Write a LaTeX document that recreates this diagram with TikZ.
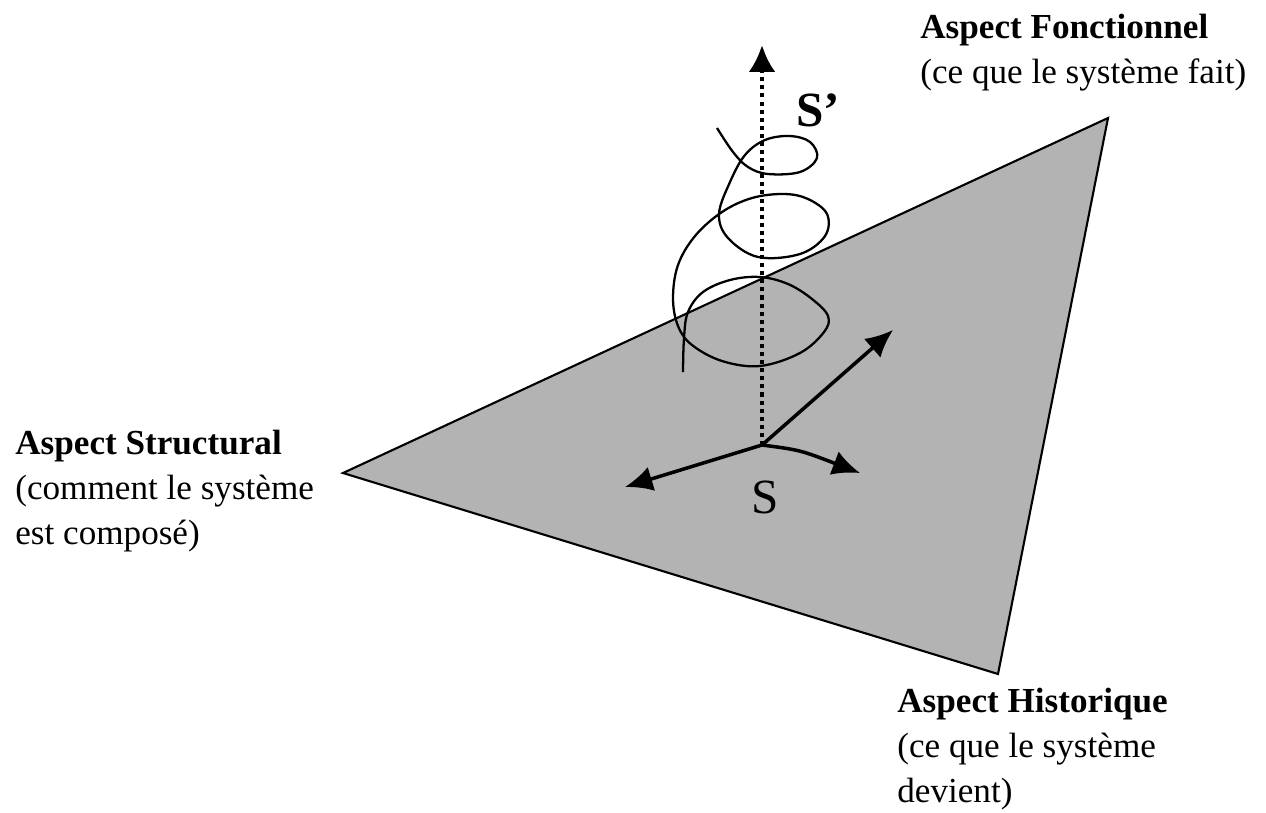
\documentclass[tikz,border=0pt]{standalone}
\usepackage{fontspec}
\setmainfont{Liberation Serif}
\usetikzlibrary{arrows.meta}
\definecolor{planegray}{RGB}{179,179,179}
\tikzset{
  aspect/.style={anchor=north west, align=left, inner sep=0pt, font=\fontsize{20}{25.5}\selectfont},
  vec/.style={line width=2pt, -{Latex[length=0.55cm,width=0.5cm]}},
}
\begin{document}
\begin{tikzpicture}[x=0.02cm,y=-0.02cm]
\useasboundingbox (0,0) rectangle (1266,812);
% the plane of the three aspects
\coordinate (struct) at (343,473);
\coordinate (fonct) at (1108,118);
\coordinate (hist) at (998,674);
\draw[line width=1.2pt, fill=planegray] (struct) -- (fonct) -- (hist) -- cycle;
% spiral
\draw[line width=1.3pt] plot[smooth, tension=0.6] coordinates {
  (717,128) (733,152) (748,167) (768,174) (800,172) (817,158) (810,142) (790,136)
  (765,140) (745,155) (730,182) (719,214) (728,238) (758,257) (800,254) (825,236)
  (827,214) (808,199) (784,194) (752,198) (722,212) (695,236) (678,265) (673,298)
  (678,326) (692,345) (722,361) (760,366) (800,353) (824,332) (828,316) (812,299)
  (788,284) (760,277) (730,280) (703,292) (688,312) (684,338) (683,372)};
% axis from S to S'
\coordinate (s) at (762,445);
\coordinate (stop) at (762,45);
\draw[line width=2.6pt, dash pattern=on 2.3pt off 2.3pt, -{Latex[length=0.54cm,width=0.54cm]}] (s) -- (stop);
% the three arrows
\coordinate (upr) at (893,330);
\coordinate (lft) at (625,487);
\coordinate (rgt) at (860,473);
\draw[vec] (s) -- (upr);
\draw[vec] (s) -- (lft);
\draw[vec] (s) .. controls (800,450) .. (rgt);
\node[font=\fontsize{28}{30}\selectfont] (lbls) at (765,497) {S};
\node[font=\fontsize{28}{30}\selectfont\bfseries] (lblsp) at (818,110) {S'};
% labels
\node[aspect] (tstruct) at (15,430) {\textbf{Aspect Structural}\\(comment le système\\est composé)};
\node[aspect] (tfonct) at (920,14) {\textbf{Aspect Fonctionnel}\\(ce que le système fait)};
\node[aspect] (thist) at (897,688) {\textbf{Aspect Historique}\\(ce que le système\\devient)};
\end{tikzpicture}
\end{document}
